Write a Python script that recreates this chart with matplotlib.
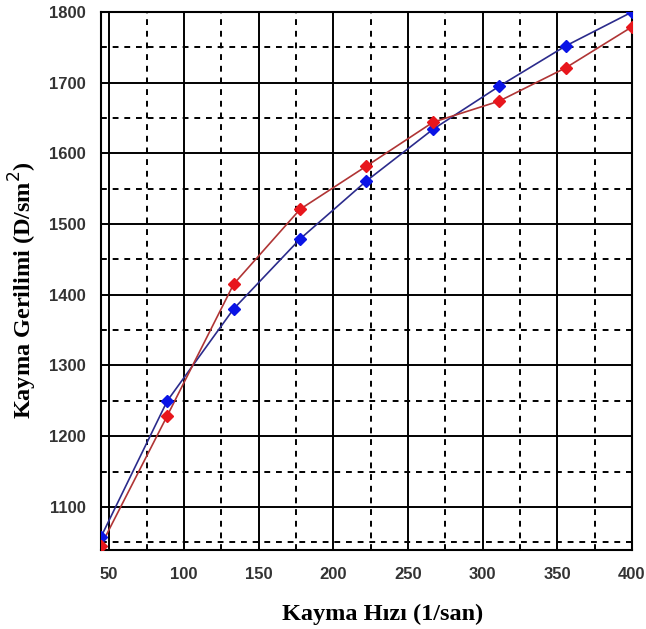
import numpy as np
import matplotlib.pyplot as plt

# shear rate (1/san) and shear stress (D/sm2)
kayma_hizi = [44.4, 88.9, 133.3, 177.8, 222.2, 266.7, 311.1, 355.6, 400.0]
seri_mavi = [1057, 1250, 1380, 1479, 1561, 1634, 1695, 1752, 1800]
seri_kirmizi = [1045, 1229, 1415, 1521, 1582, 1644, 1674, 1721, 1779]

x_major = [50, 100, 150, 200, 250, 300, 350, 400]
x_minor = [75, 125, 175, 225, 275, 325, 375]
y_major = [1100, 1200, 1300, 1400, 1500, 1600, 1700, 1800]
y_minor = [1050, 1150, 1250, 1350, 1450, 1550, 1650, 1750]

fig = plt.figure(figsize=(6.46, 6.29), dpi=100)
ax = fig.add_axes([0.1563, 0.1256, 0.822, 0.8553])

ax.plot(kayma_hizi, seri_mavi, color="#2b2b8c", lw=1.2, zorder=3)
ax.plot(kayma_hizi, seri_mavi, ls="none", marker="D", ms=6, color="#0a14e6", zorder=4)
ax.plot(kayma_hizi, seri_kirmizi, color="#b03535", lw=1.2, zorder=3)
ax.plot(kayma_hizi, seri_kirmizi, ls="none", marker="D", ms=6, color="#e8161c", zorder=4)

ax.set_xlim(44.5, 400)
ax.set_ylim(1039, 1800)

ax.set_xticks(x_major)
ax.set_xticks(x_minor, minor=True)
ax.set_yticks(y_major)
ax.set_yticks(y_minor, minor=True)
ax.grid(which="major", color="black", ls="-", lw=1.4, zorder=1)
ax.grid(which="minor", color="black", ls=(0, (3, 3)), lw=1.4, zorder=1)
ax.tick_params(which="both", length=0)
ax.tick_params(axis="y", pad=11, labelsize=12, labelcolor="#333333")
ax.tick_params(axis="x", pad=12, labelsize=12, labelcolor="#333333")
for lbl in ax.get_xticklabels() + ax.get_yticklabels():
    lbl.set_fontweight("bold")
    lbl.set_family("Liberation Sans")
for s in ax.spines.values():
    s.set_linewidth(1.5)
    s.set_color("black")

ax.set_xlabel("Kayma Hızı (1/san)", family="Liberation Serif", fontweight="bold",
              fontsize=17.5, labelpad=16)
ax.set_ylabel("Kayma Gerilimi (D/sm$^2$)", family="Liberation Serif", fontweight="bold",
              fontsize=17.5, labelpad=7)
# labels sit a bit off-centre in the original
ax.xaxis.label.set_x(0.531)
ax.yaxis.label.set_y(0.483)

fig.savefig("out.png", dpi=100)
